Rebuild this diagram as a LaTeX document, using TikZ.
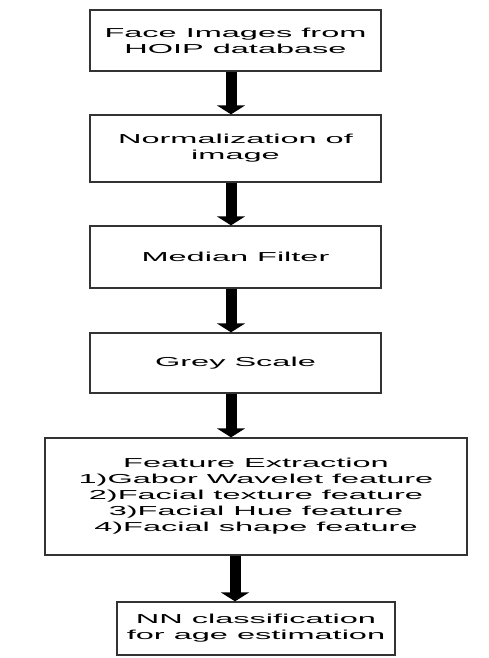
\documentclass[tikz,border=0pt]{standalone}
\usepackage{fontspec}
\newfontfamily\widefont[FakeStretch=2.5]{Liberation Sans}
\usetikzlibrary{arrows.meta}
\begin{document}
\begin{tikzpicture}[x=1pt,y=1pt,
  box/.style={draw=black!80, line width=1.3pt, fill=white, inner sep=0pt, align=center,
    font=\widefont\fontsize{13}{16}\selectfont},
  flowarrow/.style={line width=11pt, -{Triangle[width=28pt,length=9pt]}}]
\useasboundingbox (0,0) rectangle (489,-658);
\node[box, minimum width=291pt, minimum height=61pt] (b1) at (235.5,-40.5) {Face Images from\\HOIP database};
\node[box, minimum width=291pt, minimum height=67pt] (b2) at (235.5,-148.5) {Normalization of\\image};
\node[box, minimum width=291pt, minimum height=62pt] (b3) at (235.5,-257) {Median Filter};
\node[box, minimum width=291pt, minimum height=60pt] (b4) at (235.5,-363) {Grey Scale};
\node[box, minimum width=422pt, minimum height=117pt] (b5) at (256,-496.5) {Feature Extraction\\1)Gabor Wavelet feature\\2)Facial texture feature\\3)Facial Hue feature\\4)Facial shape feature};
\node[box, minimum width=278pt, minimum height=53pt] (b6) at (256,-628.5) {NN classification\\for age estimation};
\coordinate (ax) at (231,0);
\coordinate (bx) at (235,0);
\draw[flowarrow] (b1.south -| ax) -- (b2.north -| ax);
\draw[flowarrow] (b2.south -| ax) -- (b3.north -| ax);
\draw[flowarrow] (b3.south -| ax) -- (b4.north -| ax);
\draw[flowarrow] (b4.south -| ax) -- (b5.north -| ax);
\draw[flowarrow] (b5.south -| bx) -- (b6.north -| bx);
\end{tikzpicture}
\end{document}
